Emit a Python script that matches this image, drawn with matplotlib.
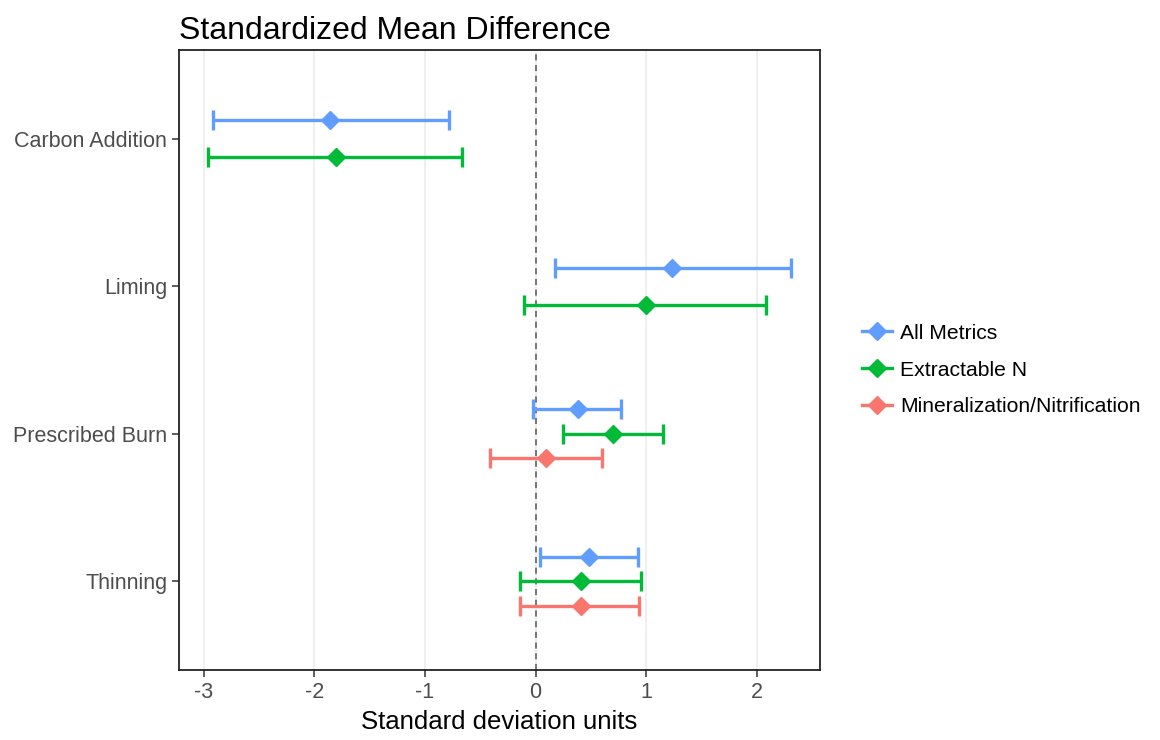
import matplotlib.pyplot as plt
from matplotlib.lines import Line2D
import numpy as np

plt.rcParams['font.family'] = ['Liberation Sans', 'DejaVu Sans']

treatments = ["Carbon Addition", "Liming", "Prescribed Burn", "Thinning"]
metrics = ["All Metrics", "Extractable N", "Mineralization/Nitrification"]
colors = {"All Metrics": "#619CFF", "Extractable N": "#00BA38",
          "Mineralization/Nitrification": "#F8766D"}

# estimate, lower CI, upper CI per metric (None = no data for treatment)
all_est = [-1.86, 1.23, 0.38, 0.48]
all_lo = [-2.92, 0.17, -0.02, 0.04]
all_hi = [-0.78, 2.31, 0.77, 0.92]

extn_est = [-1.80, 1.00, 0.70, 0.41]
extn_lo = [-2.96, -0.11, 0.25, -0.14]
extn_hi = [-0.67, 2.08, 1.15, 0.95]

minr_est = [None, None, 0.09, 0.41]
minr_lo = [None, None, -0.41, -0.14]
minr_hi = [None, None, 0.60, 0.93]

series = {
    "All Metrics": (all_est, all_lo, all_hi),
    "Extractable N": (extn_est, extn_lo, extn_hi),
    "Mineralization/Nitrification": (minr_est, minr_lo, minr_hi),
}

fig = plt.figure(figsize=(11.6, 7.4), dpi=100)
ax = fig.add_axes([0.1543, 0.0946, 0.5526, 0.8378])

dodge = 0.5
n_cat = len(treatments)
for i, t in enumerate(treatments):
    ypos = n_cat - i
    present = [m for m in metrics if series[m][0][i] is not None]
    k = len(present)
    for j, m in enumerate(present):
        est, lo, hi = series[m]
        y = ypos - (j - (k - 1) / 2) * dodge / k
        ax.errorbar(est[i], y, xerr=[[est[i] - lo[i]], [hi[i] - est[i]]],
                    fmt='D', color=colors[m], ms=9, elinewidth=2.4,
                    capsize=7.5, capthick=2.4, zorder=3)

ax.axvline(0, color="#555555", ls=(0, (4, 3)), lw=1.1, zorder=2)

ax.set_xlim(-3.223, 2.569)
ax.set_ylim(0.4, 4.6)
ax.set_xticks([-3, -2, -1, 0, 1, 2])
ax.set_xticklabels(["-3", "-2", "-1", "0", "1", "2"])
ax.set_yticks([4, 3, 2, 1])
ax.set_yticklabels(treatments)
ax.grid(axis='x', color="#EBEBEB", lw=1.1, zorder=0)
ax.set_axisbelow(True)
ax.tick_params(labelsize=15.5, labelcolor="#4D4D4D", color="#333333",
               length=5, width=1.1)
for s in ax.spines.values():
    s.set_linewidth(1.3)
    s.set_color("#222222")

ax.set_xlabel("Standard deviation units", fontsize=18.5, labelpad=5)
ax.set_title("Standardized Mean Difference", fontsize=23, loc='left',
             x=0.0, pad=8)

handles = [Line2D([0], [0], color=colors[m], marker='D', ms=9, lw=2.4)
           for m in metrics]
fig.legend(handles, metrics, loc='center left', bbox_to_anchor=(0.727, 0.5),
           frameon=False, fontsize=15.2, handlelength=1.4, labelspacing=0.85,
           handletextpad=0.4)

fig.savefig("out.png", dpi=100)
